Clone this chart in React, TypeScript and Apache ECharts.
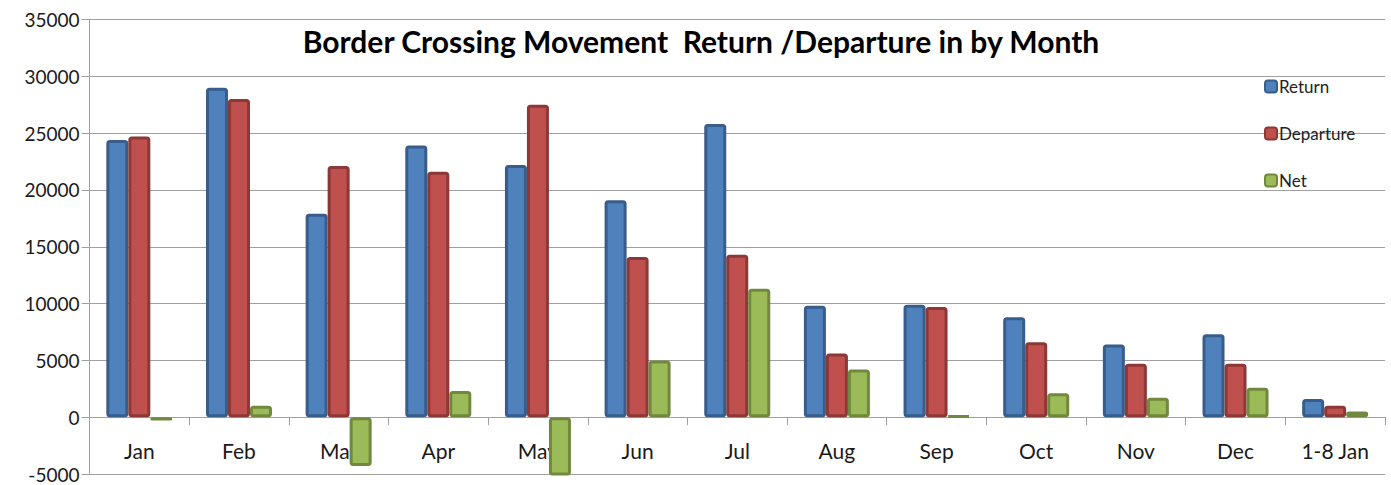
import React, { useEffect, useRef } from "react";
import * as echarts from "echarts";

const categories = ["Jan", "Feb", "Mar", "Apr", "May", "Jun", "Jul", "Aug", "Sep", "Oct", "Nov", "Dec", "1-8 Jan"];
const returnValues = [24400, 29000, 17900, 23900, 22200, 19100, 25800, 9800, 9900, 8800, 6400, 7300, 1600];
const departureValues = [24700, 28000, 22100, 21600, 27500, 14100, 14300, 5600, 9700, 6600, 4700, 4700, 1000];
const netValues = [-300, 1000, -4300, 2300, -5300, 5000, 11300, 4200, 100, 2100, 1700, 2600, 500];
const titleText = "Border Crossing Movement  Return /Departure in by Month";

const FONT = "Lato, 'Liberation Sans', sans-serif";

export default function App() {
  const ref = useRef<HTMLDivElement>(null);
  useEffect(() => {
    document.body.style.margin = "0";
    if (!ref.current) return;
    const chart = echarts.init(ref.current, null, { renderer: "svg" });
    const mk = (name: string, data: number[], fill: string, border: string) => ({
      name,
      type: "bar",
      data,
      barWidth: 22,
      barGap: "0%",
      clip: true,
      itemStyle: { color: fill, borderColor: border, borderWidth: 3, borderRadius: 2 },
    });
    chart.setOption({
      animation: false,
      backgroundColor: "#ffffff",
      textStyle: { fontFamily: FONT },
      graphic: [
        {
          type: "text",
          x: 701,
          y: 26,
          style: {
            text: titleText,
            font: `bold 30px ${FONT}`,
            fill: "#000000",
            textAlign: "center",
            textVerticalAlign: "top",
          },
        },
      ],
      legend: {
        orient: "vertical",
        left: 1259,
        top: 73,
        itemGap: 30,
        itemWidth: 12,
        itemHeight: 12,
        icon: "roundRect",
        textStyle: { fontSize: 17, color: "#222", fontFamily: FONT, padding: [0, 0, 0, -3] },
        itemStyle: { borderWidth: 2 },
        data: ["Return", "Departure", "Net"],
      },
      grid: { left: 89.5, right: 6, top: 19.5, bottom: 11, containLabel: false, outerBoundsMode: "none" },
      xAxis: [
        {
          type: "category",
          data: categories,
          axisLine: { show: true, onZero: true, lineStyle: { color: "#A0A0A0", width: 1 } },
          axisTick: { show: true, length: 8, lineStyle: { color: "#A0A0A0" } },
          axisLabel: { show: false },
        },
        {
          type: "category",
          data: categories,
          position: "bottom",
          axisLine: { show: false, onZero: false },
          axisTick: { show: false },
          axisLabel: { fontSize: 21, color: "#1a1a1a", margin: -34, fontFamily: FONT },
        },
      ],
      yAxis: {
        type: "value",
        min: -5000,
        max: 35000,
        interval: 5000,
        axisLine: { show: true, lineStyle: { color: "#A0A0A0" } },
        axisTick: { show: true, length: 8, lineStyle: { color: "#A0A0A0" } },
        axisLabel: { fontSize: 19, color: "#1a1a1a", margin: 10, fontFamily: FONT, formatter: (v: number) => String(v) },
        splitLine: { show: true, lineStyle: { color: "#A0A0A0", width: 1 } },
      },
      series: [
        mk("Return", returnValues, "#4F81BD", "#385D8A"),
        mk("Departure", departureValues, "#C0504D", "#8C3836"),
        mk("Net", netValues, "#9BBB59", "#71893F"),
      ],
    });
    return () => chart.dispose();
  }, []);
  return <div ref={ref} style={{ width: 1391, height: 485 }} />;
}
